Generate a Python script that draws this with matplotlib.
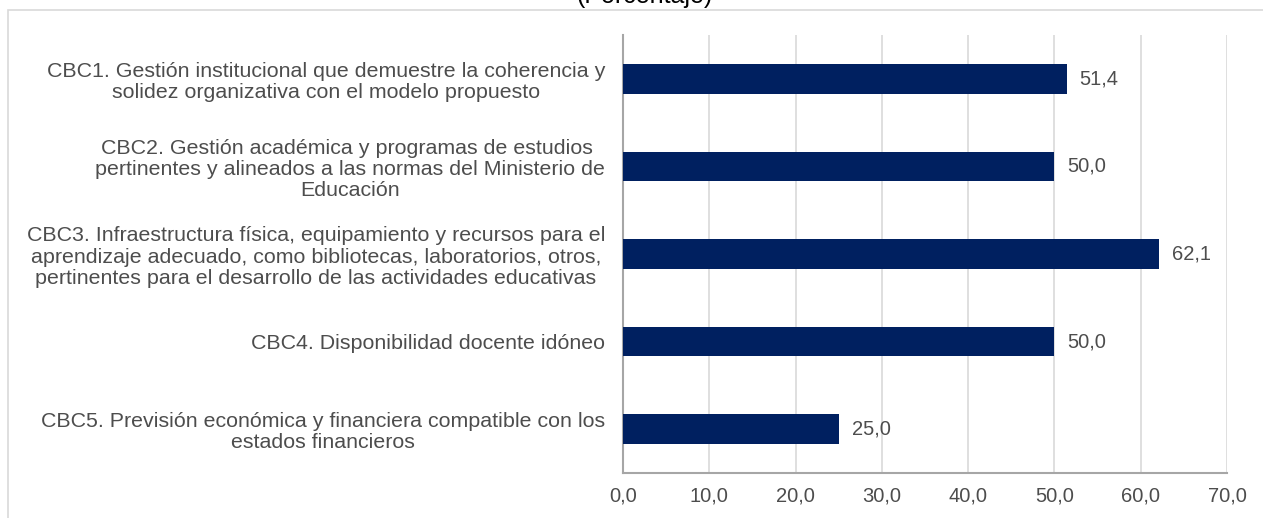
import matplotlib.pyplot as plt
from matplotlib.patches import Rectangle

categories = [
    "CBC1. Gestión institucional que demuestre la coherencia y\nsolidez organizativa con el modelo propuesto",
    "CBC2. Gestión académica y programas de estudios \npertinentes y alineados a las normas del Ministerio de\nEducación",
    "CBC3. Infraestructura física, equipamiento y recursos para el\naprendizaje adecuado, como bibliotecas, laboratorios, otros,\npertinentes para el desarrollo de las actividades educativas",
    "CBC4. Disponibilidad docente idóneo",
    "CBC5. Previsión económica y financiera compatible con los\nestados financieros",
]
values = [51.4, 50.0, 62.1, 50.0, 25.0]
xticks = [0, 10, 20, 30, 40, 50, 60, 70]

plt.rcParams['font.family'] = ['Liberation Sans', 'DejaVu Sans']
text_color = '#4d4d4d'

fig = plt.figure(figsize=(12.63, 5.18), dpi=100)
# light frame around the chart area
fig.patches.append(Rectangle((8 / 1263, -0.1), 1.2, (518 - 10) / 518 + 0.1,
                             transform=fig.transFigure, fill=False,
                             edgecolor='#d9d9d9', linewidth=1.2))
fig.text(645 / 1263, 1 - 3 / 518, "(Porcentaje)", ha='center', va='baseline',
         fontsize=18, color='#000000')

ax = fig.add_axes([623 / 1263, 45 / 518, (1227 - 623) / 1263, (473 - 35) / 518])
pos = list(range(len(categories)))
ax.barh(pos, values, height=0.34, color='#002060', zorder=3)
for p, v in zip(pos, values):
    ax.text(v + 1.5, p, f"{v:.1f}".replace('.', ','), va='center', ha='left',
            fontsize=14.5, color=text_color)

ax.set_ylim(len(categories) - 0.5, -0.5)
ax.set_xlim(0, 70)
ax.set_yticks(pos)
ax.set_yticklabels(categories, fontsize=15.4, color=text_color,
                   multialignment='center', linespacing=1.15)
ax.set_xticks(xticks)
ax.set_xticklabels([f"{t:.1f}".replace('.', ',') for t in xticks], fontsize=14.5, color=text_color)
ax.tick_params(axis='y', length=0, pad=13)
ax.tick_params(axis='x', length=0, pad=10)
ax.grid(axis='x', color='#d9d9d9', linewidth=1.2, zorder=0)
for s in ['top', 'right']:
    ax.spines[s].set_visible(False)
ax.spines['left'].set_color('#a6a6a6')
ax.spines['bottom'].set_color('#a6a6a6')
ax.spines['left'].set_linewidth(1.5)
ax.spines['bottom'].set_linewidth(1.5)

fig.savefig('out.png', dpi=100)
